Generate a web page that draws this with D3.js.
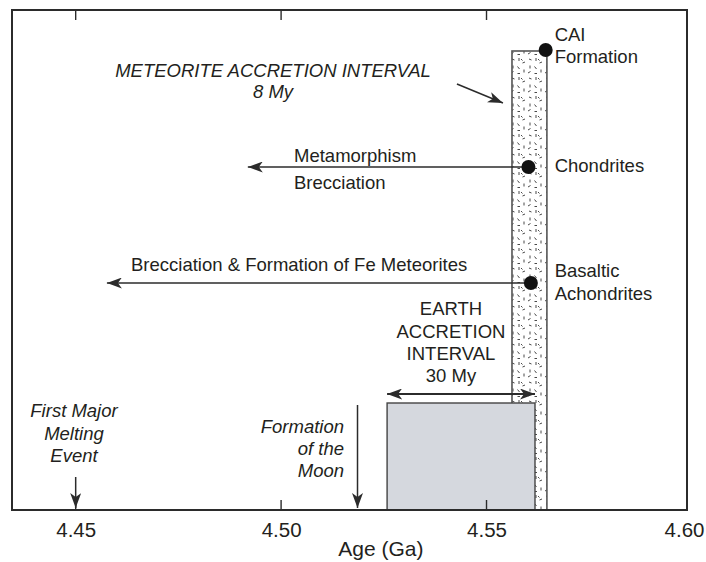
<!DOCTYPE html>
<html>
<head>
<meta charset="utf-8">
<script src="https://cdn.jsdelivr.net/npm/d3@7"></script>
<style>
  html, body { margin: 0; padding: 0; background: #fff; }
  svg { display: block; }
  text { font-family: "Liberation Sans", Arial, Helvetica, sans-serif; fill: #231f20; }
</style>
</head>
<body>
<svg id="chart" width="706" height="562"></svg>
<script>
// ---------------- data ----------------
const xTicks = [4.45, 4.50, 4.55, 4.60];
const xTickLabels = ["4.45", "4.50", "4.55", "4.60"];
const innerTicks = [4.45, 4.50, 4.55];
const xDomain = [4.4345, 4.5988];

// schematic vertical positions (0 = axis, 100 = top of frame)
const dotNames  = ["CAI Formation", "Chondrites", "Basaltic Achondrites"];
const dotAges   = [4.5644, 4.5602, 4.5608];
const dotLevels = [92, 68.6, 45.4];

// meteorite accretion interval (stippled bar)
const meteoriteInterval = [4.5562, 4.5647];
const meteoriteTopLevel = 91.8;

// earth accretion interval (grey box)
const earthInterval = [4.5258, 4.5618];
const earthTopLevel = 21.4;
const earthArrowLevel = 23.2;

// horizontal process arrows: from dot age to arrow tip age
const processNames = ["Metamorphism / Brecciation", "Brecciation & Formation of Fe Meteorites"];
const processFrom  = [4.5602, 4.5608];
const processTo    = [4.4919, 4.4576];
const processLevel = [68.6, 45.4];

// vertical event arrows
const eventNames  = ["First Major Melting Event", "Formation of the Moon"];
const eventAges   = [4.45, 4.5186];
const eventTop    = [6.6, 21];
const eventBottom = [0.4, 0.4];

const axisTitle = "Age (Ga)";

// ---------------- setup ----------------
const svg = d3.select("#chart");
const frame = {left: 12, right: 687, top: 10, bottom: 510};
const x = d3.scaleLinear().domain(xDomain).range([frame.left, frame.right]);
const y = d3.scaleLinear().domain([0, 100]).range([frame.bottom, frame.top]);
const ink = "#2b2b2b";
const FS = 18.5;

const defs = svg.append("defs");
// arrowhead
defs.append("marker")
  .attr("id", "arrow").attr("viewBox", "0 0 15 11")
  .attr("refX", 15).attr("refY", 5.5)
  .attr("markerWidth", 15).attr("markerHeight", 11)
  .attr("markerUnits", "userSpaceOnUse")
  .attr("orient", "auto-start-reverse")
  .append("path").attr("d", "M0,0 L15,5.5 L0,11 L4,5.5 Z").attr("fill", ink);

// stipple pattern
const pat = defs.append("pattern").attr("id", "stipple")
  .attr("patternUnits", "userSpaceOnUse").attr("width", 17).attr("height", 19);
const dashes = [[2,2,4.5,3],[9,1,9,4],[12.5,6,15,5],[3,8.5,3,11.5],[7.5,9.5,9.5,12],[14,12.5,14,15.5],[1,16,3.5,14.5],[7.5,16.5,10,16.5],[11,2,12.5,3.5]];
pat.selectAll("line").data(dashes).join("line")
  .attr("x1", d => d[0]).attr("y1", d => d[1]).attr("x2", d => d[2]).attr("y2", d => d[3])
  .attr("stroke", "#333").attr("stroke-width", 0.9);

// ---------------- marks ----------------
// meteorite accretion stipple bar
svg.append("rect")
  .attr("x", x(meteoriteInterval[0])).attr("y", y(meteoriteTopLevel))
  .attr("width", x(meteoriteInterval[1]) - x(meteoriteInterval[0]))
  .attr("height", y(0) - y(meteoriteTopLevel))
  .attr("fill", "url(#stipple)").attr("stroke", "#555").attr("stroke-width", 1.6);

// earth accretion grey box
svg.append("rect")
  .attr("x", x(earthInterval[0])).attr("y", y(earthTopLevel))
  .attr("width", x(earthInterval[1]) - x(earthInterval[0]))
  .attr("height", y(0) - y(earthTopLevel))
  .attr("fill", "#d5d8de").attr("stroke", "#444").attr("stroke-width", 1.4);

// frame
svg.append("rect")
  .attr("x", frame.left).attr("y", frame.top)
  .attr("width", frame.right - frame.left).attr("height", frame.bottom - frame.top)
  .attr("fill", "none").attr("stroke", ink).attr("stroke-width", 2);

// inner ticks (top and bottom)
svg.append("g").selectAll("line").data(innerTicks).join("line")
  .attr("x1", d => x(d)).attr("x2", d => x(d))
  .attr("y1", frame.top).attr("y2", frame.top + 10)
  .attr("stroke", ink).attr("stroke-width", 1.4);
svg.append("g").selectAll("line").data(innerTicks).join("line")
  .attr("x1", d => x(d)).attr("x2", d => x(d))
  .attr("y1", frame.bottom).attr("y2", frame.bottom - 10)
  .attr("stroke", ink).attr("stroke-width", 1.4);

// bottom axis labels
const axis = d3.axisBottom(x).tickValues(xTicks).tickSize(0).tickPadding(8)
  .tickFormat((d, i) => xTickLabels[i]);
const gAxis = svg.append("g").attr("transform", `translate(0,${frame.bottom})`).call(axis);
gAxis.select(".domain").remove();
gAxis.selectAll("text")
  .style("font-family", '"Liberation Sans", Arial, sans-serif')
  .attr("font-size", 20.5).attr("fill", "#231f20").attr("dy", "0.93em");
// keep last label inside page
gAxis.selectAll(".tick").each(function(d) {
  const t = d3.select(this).select("text");
  const w = t.node().getComputedTextLength();
  const px = x(d);
  if (px + w / 2 > 704) t.attr("dx", 704 - (px + w / 2));
});

svg.append("text").attr("x", x(4.5243)).attr("y", 556)
  .attr("text-anchor", "middle").attr("font-size", 21).text(axisTitle);

// process arrows
svg.append("g").selectAll("line").data(processFrom).join("line")
  .attr("x1", d => x(d)).attr("x2", (d, i) => x(processTo[i]))
  .attr("y1", (d, i) => y(processLevel[i])).attr("y2", (d, i) => y(processLevel[i]))
  .attr("stroke", ink).attr("stroke-width", 1.5).attr("marker-end", "url(#arrow)");

// vertical event arrows
svg.append("g").selectAll("line").data(eventAges).join("line")
  .attr("x1", d => x(d)).attr("x2", d => x(d))
  .attr("y1", (d, i) => y(eventTop[i])).attr("y2", (d, i) => y(eventBottom[i]))
  .attr("stroke", ink).attr("stroke-width", 1.5).attr("marker-end", "url(#arrow)");

// earth accretion double arrow
svg.append("line")
  .attr("x1", x(earthInterval[0])).attr("x2", x(earthInterval[1]))
  .attr("y1", y(earthArrowLevel)).attr("y2", y(earthArrowLevel))
  .attr("stroke", ink).attr("stroke-width", 1.8)
  .attr("marker-start", "url(#arrow)").attr("marker-end", "url(#arrow)");

// meteorite interval pointer arrow
svg.append("line")
  .attr("x1", x(4.5428)).attr("y1", y(85.2))
  .attr("x2", x(4.5540)).attr("y2", y(81.4))
  .attr("stroke", ink).attr("stroke-width", 1.5).attr("marker-end", "url(#arrow)");

// dots
svg.append("g").selectAll("circle").data(dotAges).join("circle")
  .attr("cx", d => x(d)).attr("cy", (d, i) => y(dotLevels[i]))
  .attr("r", 7).attr("fill", "#111");

// ---------------- text ----------------
function lines(xp, ys, arr, opts) {
  const t = svg.append("g");
  arr.forEach((s, i) => {
    t.append("text").attr("x", xp).attr("y", ys[i])
      .attr("text-anchor", opts.anchor || "start")
      .attr("font-size", opts.size || FS)
      .attr("font-style", opts.italic ? "italic" : "normal")
      .text(s);
  });
}
const lx = x(dotAges[0]) + 9;
lines(lx, [y(dotLevels[0]) - 9, y(dotLevels[0]) + 13], ["CAI", "Formation"], {});
lines(lx, [y(dotLevels[1]) + 5], ["Chondrites"], {});
lines(lx, [y(dotLevels[2]) - 6, y(dotLevels[2]) + 17], ["Basaltic", "Achondrites"], {});

lines(294, [y(processLevel[0]) - 5, y(processLevel[0]) + 22], ["Metamorphism", "Brecciation"], {});
lines(131, [y(processLevel[1]) - 12], ["Brecciation & Formation of Fe Meteorites"], {});

lines(273, [77, 98], ["METEORITE ACCRETION INTERVAL", "8 My"], {anchor: "middle", italic: true});
lines(451, [315, 337.5, 360, 382], ["EARTH", "ACCRETION", "INTERVAL", "30 My"], {anchor: "middle"});
lines(74, [417, 440, 462], ["First Major", "Melting", "Event"], {anchor: "middle", italic: true});
lines(344, [433, 455, 477], ["Formation", "of the", "Moon"], {anchor: "end", italic: true});
</script>
</body>
</html>
